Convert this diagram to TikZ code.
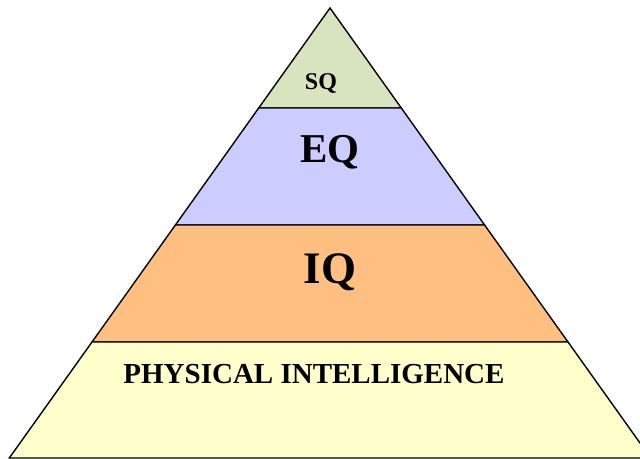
\documentclass[tikz,border=0pt]{standalone}
\usepackage{fontspec}
\setmainfont{Liberation Serif}
\usepackage{xcolor}
\definecolor{sqgreen}{HTML}{D7E4BD}
\definecolor{eqblue}{HTML}{CCCCFF}
\definecolor{iqorange}{HTML}{FFBF80}
\definecolor{physyellow}{HTML}{FFFFCC}

\begin{document}
\begin{tikzpicture}[x=1pt, y=-1pt,
  layer/.style={draw=black, line width=1.4pt, line join=miter},
  every node/.style={font=\bfseries, text=black, inner sep=0pt, anchor=base}
]
\useasboundingbox (0,0) rectangle (640,458);

%% Layer corners
\coordinate (apex) at (330,8);
\coordinate (l1) at (258.7,108); \coordinate (r1) at (401.3,108);
\coordinate (l2) at (175.4,225); \coordinate (r2) at (484.6,225);
\coordinate (l3) at (92.0,342);  \coordinate (r3) at (568.0,342);
\coordinate (l4) at (9.3,458);   \coordinate (r4) at (650.7,458);

%% Layers, top to bottom
\draw[layer, fill=sqgreen] (apex) -- (r1) -- (l1) -- cycle;
\draw[layer, fill=eqblue] (l1) -- (r1) -- (r2) -- (l2) -- cycle;
\draw[layer, fill=iqorange] (l2) -- (r2) -- (r3) -- (l3) -- cycle;
\draw[layer, fill=physyellow] (l3) -- (r3) -- (r4) -- (l4) -- cycle;

%% Labels (placed at their baselines)
\node[font=\fontsize{24}{28}\selectfont\bfseries] (sq) at (321,89) {SQ};
\node[font=\fontsize{41}{48}\selectfont\bfseries] (eq) at (330,162) {EQ};
\node[font=\fontsize{45}{52}\selectfont\bfseries] (iq) at (330,283) {IQ};
\node[font=\fontsize{29}{34}\selectfont\bfseries] (phys) at (314,383) {PHYSICAL INTELLIGENCE};

\end{tikzpicture}
\end{document}
